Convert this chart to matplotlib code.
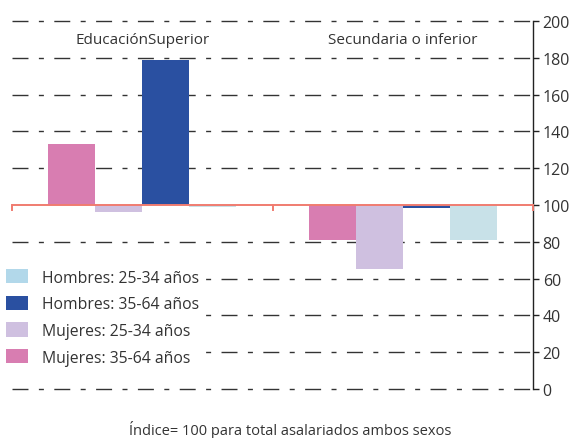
import matplotlib
matplotlib.use("Agg")
import matplotlib.pyplot as plt
from matplotlib.patches import Patch
import numpy as np

plt.rcParams['font.family'] = ['Open Sans', 'DejaVu Sans']

categories = ["EducaciónSuperior", "Secundaria o inferior"]
series_names = ["Mujeres: 35-64 años", "Mujeres: 25-34 años", "Hombres: 35-64 años", "Hombres: 25-34 años"]
mujeres_35_64 = [133, 81]
mujeres_25_34 = [96, 65]
hombres_35_64 = [179, 98.5]
hombres_25_34 = [98.8, 81]
yticks = [0, 20, 40, 60, 80, 100, 120, 140, 160, 180, 200]
footer = "Índice= 100 para total asalariados ambos sexos"

bar_colors = ["#d87db1", "#cfc0e0", "#2a50a1", "#c8e1e8"]
legend_colors = {"Hombres: 25-34 años": "#b2d8ea", "Hombres: 35-64 años": "#2a50a1",
                 "Mujeres: 25-34 años": "#cfc0e0", "Mujeres: 35-64 años": "#d87db1"}
legend_order = ["Hombres: 25-34 años", "Hombres: 35-64 años", "Mujeres: 25-34 años", "Mujeres: 35-64 años"]

fig = plt.figure(figsize=(5.75, 4.39), dpi=100)
ax = fig.add_axes([12/575, 1-390/439, (533-12)/575, (390-22)/439])

base = 100
width = 0.18
x = np.arange(len(categories))
all_series = [mujeres_35_64, mujeres_25_34, hombres_35_64, hombres_25_34]
for i, (vals, col) in enumerate(zip(all_series, bar_colors)):
    offs = (i - 1.5) * width
    ax.bar(x + offs, np.array(vals) - base, width=width, bottom=base, color=col, zorder=2, linewidth=0)

ax.set_xlim(-0.5, 1.5)
ax.set_ylim(0, 200)

# gridlines
for yv in yticks:
    if yv == base:
        continue
    ax.axhline(yv, color="#333333", lw=1.0, linestyle=(0, (11.5, 7.5, 3.6, 7.5)), zorder=1, clip_on=False)

# red baseline with category ticks
ax.axhline(base, color="#f07c70", lw=1.4, zorder=3)
for xb in [-0.5, 0.5, 1.5]:
    ax.plot([xb, xb], [base, base - 2.6], color="#f07c70", lw=1.4, zorder=3, clip_on=False)

# spines / ticks
for s in ["top", "left", "bottom"]:
    ax.spines[s].set_visible(False)
ax.spines["right"].set_color("#222222")
ax.spines["right"].set_linewidth(1.0)
ax.yaxis.tick_right()
ax.set_yticks(yticks)
ax.set_yticklabels([str(v) for v in yticks], fontsize=11.5, color="#333333")
ax.tick_params(axis="y", direction="out", length=4, width=1, color="#222222", pad=3)
ax.set_xticks([])

# category labels
for xi, name in zip(x, categories):
    ax.text(xi, 190, name, ha="center", va="center", fontsize=11, color="#333333", zorder=4)

# legend
handles = [Patch(facecolor=legend_colors[n], edgecolor="none") for n in legend_order]
leg = ax.legend(handles, legend_order, loc="upper left", bbox_to_anchor=(-0.02, 0.337),
                frameon=True, fontsize=11.3, handlelength=1.45, handleheight=1.05,
                handletextpad=0.85, labelspacing=0.64, borderpad=0.25, borderaxespad=0)
leg.get_frame().set_facecolor("white")
leg.get_frame().set_edgecolor("none")
leg.get_frame().set_alpha(1)
leg.set_zorder(5)
for t in leg.get_texts():
    t.set_color("#333333")

fig.text(290/575, 1-430/439, footer, ha="center", va="center", fontsize=10.5, color="#333333")

fig.savefig("out.png", dpi=100, facecolor="white")
